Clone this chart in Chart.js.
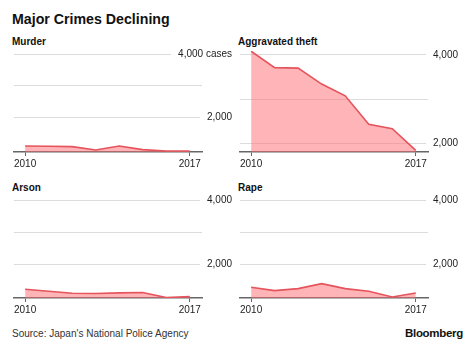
<!DOCTYPE html>
<html>
<head>
<meta charset="utf-8">
<script src="https://cdn.jsdelivr.net/npm/chart.js@4.4.0/dist/chart.umd.min.js"></script>
<style>
    body { margin: 0; background: #fff; font-family: "Liberation Sans", Arial, sans-serif; color: #111; }
    #page { position: relative; width: 474px; height: 345px; overflow: hidden; }
    .titulo { position: absolute; left: 12px; top: 11px; font-size: 14.2px; font-weight: bold; }
    .sub { position: absolute; font-size: 10px; font-weight: bold; }
    .panel { position: absolute; width: 220px; height: 128px; }
    .fuente { position: absolute; left: 12px; top: 328px; font-size: 10px; color: #333; }
    .marca { position: absolute; right: 11px; top: 327px; font-size: 11.5px; font-weight: bold; letter-spacing: -0.3px; }
</style>
</head>
<body>
<div id="page">
    <div class="titulo">Major Crimes Declining</div>

    <div class="sub" style="left:12px; top:36px;">Murder</div>
    <div class="sub" style="left:238px; top:36px;">Aggravated theft</div>
    <div class="sub" style="left:12px; top:182px;">Arson</div>
    <div class="sub" style="left:238px; top:182px;">Rape</div>

    <div class="panel" style="left:12px; top:44px;"><canvas id="murder"></canvas></div>
    <div class="panel" style="left:238px; top:41px; height:131px;"><canvas id="theft"></canvas></div>
    <div class="panel" style="left:12px; top:190px;"><canvas id="arson"></canvas></div>
    <div class="panel" style="left:238px; top:190px;"><canvas id="rape"></canvas></div>

    <div class="fuente">Source: Japan's National Police Agency</div>
    <div class="marca">Bloomberg</div>
</div>

<script>
// datos (casos por año)
const anios = [2010, 2011, 2012, 2013, 2014, 2015, 2016, 2017];
const asesinatos = [1105, 1095, 1085, 980, 1105, 990, 945, 945];
const robos = [4080, 3710, 3700, 3340, 3075, 2435, 2335, 1845];
const incendios = [1220, 1160, 1097, 1090, 1107, 1120, 962, 994];
const violaciones = [1297, 1195, 1257, 1412, 1257, 1173, 997, 1121];

const ticksY = [2000, 3000, 4000];
const ticksX = [2010, 2017];

const rojo = '#e5545c';
const rosa = 'rgba(255, 105, 112, 0.5)';
const anchoEje = 30;

const crearGrafico = (id, valores, minimo, maximo, unidad) => {
    const puntos = anios.map((a, i) => ({ x: a, y: valores[i] }));
    return new Chart(document.getElementById(id), {
        type: 'line',
        data: {
            datasets: [{
                data: puntos,
                borderColor: rojo,
                borderWidth: 1.6,
                backgroundColor: rosa,
                fill: 'start',
                pointRadius: 0,
                tension: 0
            }]
        },
        options: {
            responsive: false,
            animation: false,
            events: [],
            layout: { padding: { top: 10, left: 0, right: 0, bottom: 0 } },
            plugins: { legend: { display: false }, tooltip: { enabled: false } },
            scales: {
                x: {
                    type: 'linear',
                    min: 2009.52,
                    max: 2017.52,
                    afterBuildTicks: (eje) => { eje.ticks = ticksX.map(v => ({ value: v })); },
                    grid: { drawOnChartArea: false, drawTicks: true, tickLength: 4, color: '#666', lineWidth: 1 },
                    border: { display: true, color: '#666', width: 1.5 },
                    ticks: {
                        padding: 2,
                        color: '#222',
                        font: { size: 10, family: '"Liberation Sans", Arial, sans-serif' },
                        callback: (v) => String(v),
                        maxRotation: 0
                    }
                },
                y: {
                    position: 'right',
                    min: minimo,
                    max: maximo,
                    afterBuildTicks: (eje) => { eje.ticks = ticksY.map(v => ({ value: v })); },
                    afterFit: (eje) => {
                        eje.width = anchoEje;
                        // el padding de los ticks no debe comerse la altura
                        eje.paddingTop = 0;
                        eje.paddingBottom = 0;
                    },
                    grid: { color: '#dcdcdc', lineWidth: 1, drawTicks: false },
                    border: { display: false },
                    ticks: {
                        // mirror: el texto termina en el borde derecho y no se recorta
                        mirror: true,
                        crossAlign: 'near',
                        padding: anchoEje,
                        color: '#222',
                        font: { size: 10, family: '"Liberation Sans", Arial, sans-serif' },
                        showLabelBackdrop: true,
                        backdropColor: '#fff',
                        backdropPadding: { left: 7, right: 0, top: 0, bottom: 0 },
                        callback: (v) => {
                            if (v === 3000) return '';
                            let txt = v.toLocaleString('en-US');
                            if (v === 4000 && unidad) txt += ' ' + unidad;
                            return txt;
                        }
                    }
                }
            }
        }
    });
};

document.querySelectorAll('canvas').forEach(c => {
    c.width = c.parentElement.clientWidth;
    c.height = c.parentElement.clientHeight;
});

crearGrafico('murder', asesinatos, 915, 4000, 'cases');
crearGrafico('theft', robos, 1808, 4085, '');
crearGrafico('arson', incendios, 948, 4000, '');
crearGrafico('rape', violaciones, 966, 4000, '');
</script>
</body>
</html>
